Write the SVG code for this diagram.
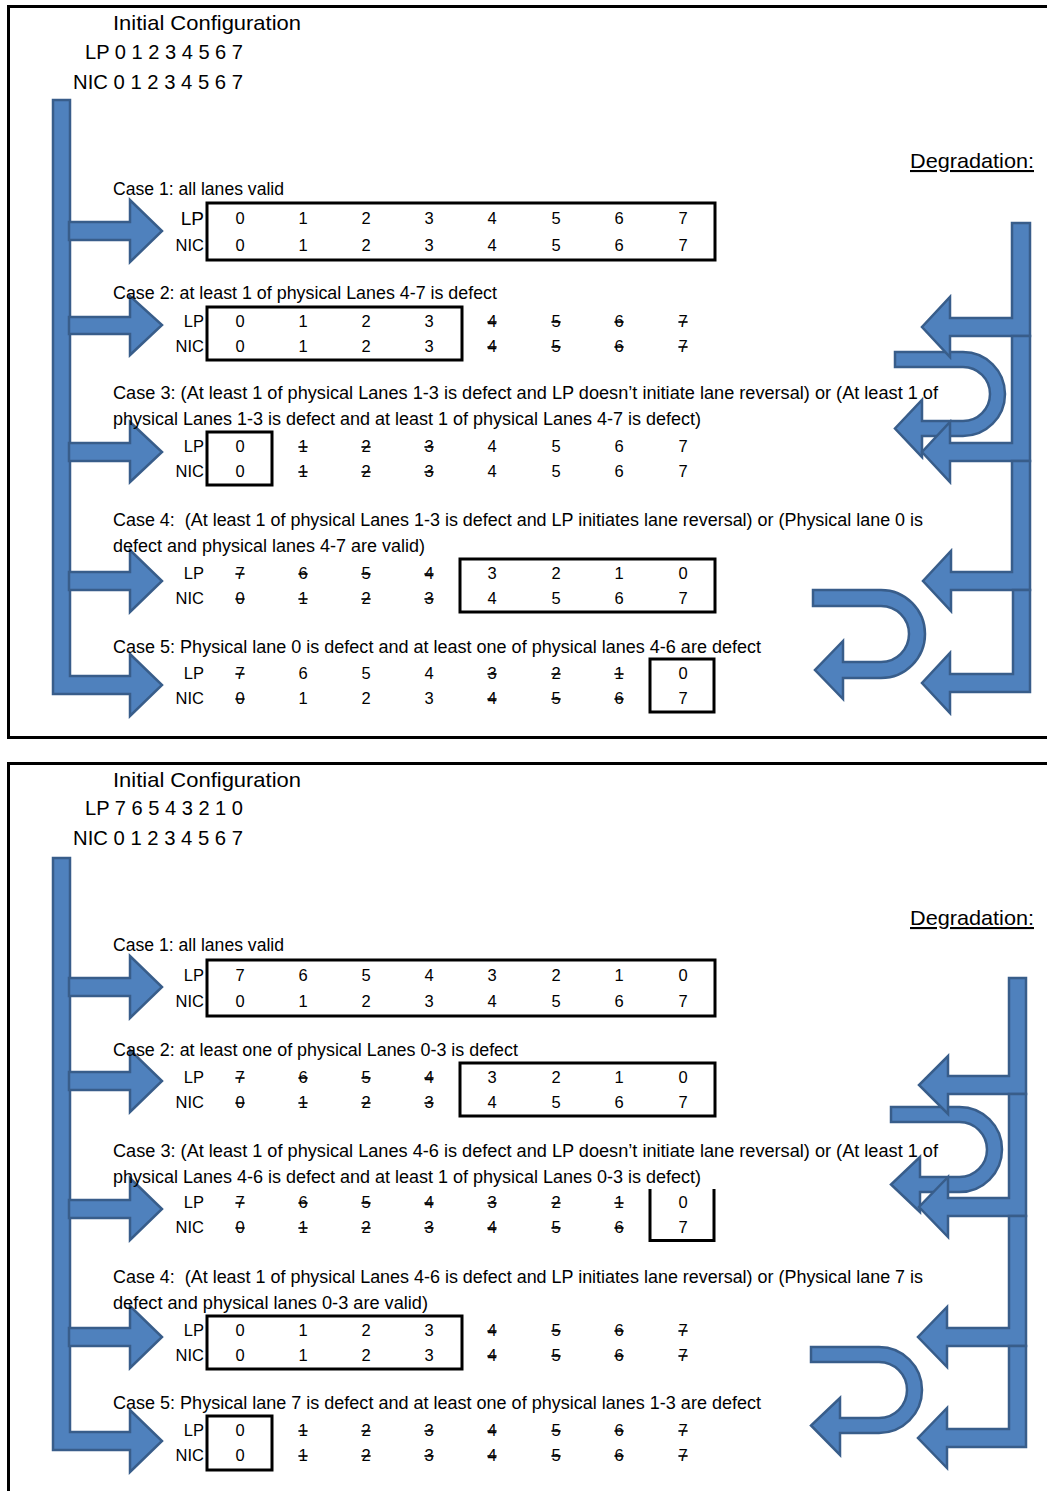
<svg xmlns="http://www.w3.org/2000/svg" width="1047" height="1491" viewBox="0 0 1047 1491">
<style>
text{font-family:"Liberation Sans",Arial,sans-serif;fill:#000}
.h{font-size:21px}
.c{font-size:17.5px}
.r{font-size:16.5px}
.d{font-size:16.5px;text-anchor:middle}
.l{font-size:16.5px;text-anchor:end}
.s{text-decoration:line-through}
.frame{fill:none;stroke:#000;stroke-width:3}
.box{fill:none;stroke:#000;stroke-width:3}
.arr{fill:#4F81BD;stroke:#385D8A;stroke-width:2.5;stroke-linejoin:miter}
</style>

<g id="frames">
<path class="frame" d="M1047,6.5 H8.5 V737.5 H1047"/>
<path class="frame" d="M1047,763.5 H8.5 V1491"/>
</g>

<g id="connectors">
<!-- top panel left -->
<path class="arr" d="M53,100 H70 V676 H130 V654 L162,685 L130,716 V694 H53 Z"/>
<path class="arr" d="M69,222 H130 V200 L162,231 L130,262 V240 H69 Z"/>
<path class="arr" d="M69,317 H130 V296 L162,325 L130,355 V334 H69 Z"/>
<path class="arr" d="M69,443 H130 V422 L162,452 L130,482 V461 H69 Z"/>
<path class="arr" d="M69,572 H130 V550 L162,581 L130,612 V590 H69 Z"/>
<!-- top panel right U-turns -->
<path class="arr" d="M895,352 H963 A42,42 0 0 1 963,436 H922 V457 L895,428.5 L922,400 V421 H963 A27,27 0 0 0 963,367 H895 Z"/>
<path class="arr" d="M813,590 H881 A44,44 0 0 1 881,678 H843 V699 L815,670 L843,641 V662 H881 A28,28 0 0 0 881,606 H813 Z"/>
<!-- top panel right bent arrows -->
<path class="arr" d="M1012,223 H1030 V336 H950 V357 L922,327 L950,297 V318 H1012 Z"/>
<path class="arr" d="M1012,336 H1030 V461 H950 V482 L922,452 L950,422 V443 H1012 Z"/>
<path class="arr" d="M1012,461 H1030 V590 H951 V611 L923,581 L951,551 V572 H1012 Z"/>
<path class="arr" d="M1013,590 H1030 V692 H950 V713 L922,683 L950,653 V674 H1013 Z"/>
<!-- bottom panel left -->
<path class="arr" d="M53,858 H70 V1432 H130 V1410 L162,1441 L130,1472 V1450 H53 Z"/>
<path class="arr" d="M69,978 H130 V956 L162,987 L130,1018 V996 H69 Z"/>
<path class="arr" d="M69,1072 H130 V1050 L162,1081 L130,1112 V1090 H69 Z"/>
<path class="arr" d="M69,1200 H130 V1178 L162,1209 L130,1240 V1218 H69 Z"/>
<path class="arr" d="M69,1328 H130 V1306 L162,1337 L130,1368 V1346 H69 Z"/>
<!-- bottom panel right U-turns -->
<path class="arr" d="M891,1107 H959.5 A42.5,42.5 0 0 1 959.5,1192 H920 V1212 L891,1184.5 L920,1157 V1177 H959.5 A27.5,27.5 0 0 0 959.5,1122 H891 Z"/>
<path class="arr" d="M811,1347 H879 A43,43 0 0 1 879,1433 H840 V1455 L811,1425.5 L840,1398 V1418 H879 A28,28 0 0 0 879,1362 H811 Z"/>
<!-- bottom panel right bent arrows -->
<path class="arr" d="M1009,978 H1026 V1094 H948 V1114 L919,1085 L948,1056 V1076 H1009 Z"/>
<path class="arr" d="M1009,1094 H1026 V1216 H948 V1237 L919,1207 L948,1177 V1198 H1009 Z"/>
<path class="arr" d="M1009,1216 H1026 V1346 H947 V1367 L918,1337 L947,1307 V1328 H1009 Z"/>
<path class="arr" d="M1009,1346 H1026 V1447 H947 V1468 L918,1438 L947,1408 V1429 H1009 Z"/>
</g>

<!-- ================= TOP PANEL ================= -->
<g id="top-initial">
<text class="h" x="113" y="29.5" textLength="188" lengthAdjust="spacingAndGlyphs">Initial Configuration</text>
<text class="h" x="85" y="59" textLength="158" lengthAdjust="spacingAndGlyphs">LP 0 1 2 3 4 5 6 7</text>
<text class="h" x="73" y="89" textLength="170" lengthAdjust="spacingAndGlyphs">NIC 0 1 2 3 4 5 6 7</text>
</g>
<g id="top-degradation">
<text class="h" x="910" y="168" textLength="124" lengthAdjust="spacingAndGlyphs" text-decoration="underline">Degradation:</text>
</g>

<g id="top-case1">
<text class="c" x="113" y="195" textLength="171" lengthAdjust="spacingAndGlyphs">Case 1: all lanes valid</text>
<text class="l" x="204" y="225" style="font-size:19px">LP</text>
<text class="l" x="204" y="251">NIC</text>
<rect class="box" x="207" y="203" width="508" height="57"/>
<text class="d" x="240" y="224">0</text><text class="d" x="303" y="224">1</text><text class="d" x="366" y="224">2</text><text class="d" x="429" y="224">3</text><text class="d" x="492" y="224">4</text><text class="d" x="556" y="224">5</text><text class="d" x="619" y="224">6</text><text class="d" x="683" y="224">7</text>
<text class="d" x="240" y="251">0</text><text class="d" x="303" y="251">1</text><text class="d" x="366" y="251">2</text><text class="d" x="429" y="251">3</text><text class="d" x="492" y="251">4</text><text class="d" x="556" y="251">5</text><text class="d" x="619" y="251">6</text><text class="d" x="683" y="251">7</text>
</g>

<g id="top-case2">
<text class="c" x="113" y="299" textLength="384" lengthAdjust="spacingAndGlyphs">Case 2: at least 1 of physical Lanes 4-7 is defect</text>
<text class="l" x="204" y="327">LP</text>
<text class="l" x="204" y="352">NIC</text>
<rect class="box" x="207" y="307" width="255" height="53"/>
<text class="d" x="240" y="327">0</text><text class="d" x="303" y="327">1</text><text class="d" x="366" y="327">2</text><text class="d" x="429" y="327">3</text><text class="d s" x="492" y="327">4</text><text class="d s" x="556" y="327">5</text><text class="d s" x="619" y="327">6</text><text class="d s" x="683" y="327">7</text>
<text class="d" x="240" y="352">0</text><text class="d" x="303" y="352">1</text><text class="d" x="366" y="352">2</text><text class="d" x="429" y="352">3</text><text class="d s" x="492" y="352">4</text><text class="d s" x="556" y="352">5</text><text class="d s" x="619" y="352">6</text><text class="d s" x="683" y="352">7</text>
</g>

<g id="top-case3">
<text class="c" x="113" y="399" textLength="825" lengthAdjust="spacingAndGlyphs">Case 3: (At least 1 of physical Lanes 1-3 is defect and LP doesn’t initiate lane reversal) or (At least 1 of</text>
<text class="c" x="113" y="425" textLength="588" lengthAdjust="spacingAndGlyphs">physical Lanes 1-3 is defect and at least 1 of physical Lanes 4-7 is defect)</text>
<text class="l" x="204" y="452">LP</text>
<text class="l" x="204" y="477">NIC</text>
<rect class="box" x="207" y="432" width="65" height="53"/>
<text class="d" x="240" y="452">0</text><text class="d s" x="303" y="452">1</text><text class="d s" x="366" y="452">2</text><text class="d s" x="429" y="452">3</text><text class="d" x="492" y="452">4</text><text class="d" x="556" y="452">5</text><text class="d" x="619" y="452">6</text><text class="d" x="683" y="452">7</text>
<text class="d" x="240" y="477">0</text><text class="d s" x="303" y="477">1</text><text class="d s" x="366" y="477">2</text><text class="d s" x="429" y="477">3</text><text class="d" x="492" y="477">4</text><text class="d" x="556" y="477">5</text><text class="d" x="619" y="477">6</text><text class="d" x="683" y="477">7</text>
</g>

<g id="top-case4">
<text class="c" x="113" y="526" textLength="810" lengthAdjust="spacingAndGlyphs" style="white-space:pre">Case 4:  (At least 1 of physical Lanes 1-3 is defect and LP initiates lane reversal) or (Physical lane 0 is</text>
<text class="c" x="113" y="552" textLength="312" lengthAdjust="spacingAndGlyphs">defect and physical lanes 4-7 are valid)</text>
<text class="l" x="204" y="579">LP</text>
<text class="l" x="204" y="604">NIC</text>
<rect class="box" x="460" y="559" width="255" height="53"/>
<text class="d s" x="240" y="579">7</text><text class="d s" x="303" y="579">6</text><text class="d s" x="366" y="579">5</text><text class="d s" x="429" y="579">4</text><text class="d" x="492" y="579">3</text><text class="d" x="556" y="579">2</text><text class="d" x="619" y="579">1</text><text class="d" x="683" y="579">0</text>
<text class="d s" x="240" y="604">0</text><text class="d s" x="303" y="604">1</text><text class="d s" x="366" y="604">2</text><text class="d s" x="429" y="604">3</text><text class="d" x="492" y="604">4</text><text class="d" x="556" y="604">5</text><text class="d" x="619" y="604">6</text><text class="d" x="683" y="604">7</text>
</g>

<g id="top-case5">
<text class="c" x="113" y="653" textLength="648" lengthAdjust="spacingAndGlyphs">Case 5: Physical lane 0 is defect and at least one of physical lanes 4-6 are defect</text>
<text class="l" x="204" y="679">LP</text>
<text class="l" x="204" y="704">NIC</text>
<rect class="box" x="650" y="659" width="64" height="53"/>
<text class="d s" x="240" y="679">7</text><text class="d" x="303" y="679">6</text><text class="d" x="366" y="679">5</text><text class="d" x="429" y="679">4</text><text class="d s" x="492" y="679">3</text><text class="d s" x="556" y="679">2</text><text class="d s" x="619" y="679">1</text><text class="d" x="683" y="679">0</text>
<text class="d s" x="240" y="704">0</text><text class="d" x="303" y="704">1</text><text class="d" x="366" y="704">2</text><text class="d" x="429" y="704">3</text><text class="d s" x="492" y="704">4</text><text class="d s" x="556" y="704">5</text><text class="d s" x="619" y="704">6</text><text class="d" x="683" y="704">7</text>
</g>

<!-- ================= BOTTOM PANEL ================= -->
<g id="bottom-initial">
<text class="h" x="113" y="786.5" textLength="188" lengthAdjust="spacingAndGlyphs">Initial Configuration</text>
<text class="h" x="85" y="815" textLength="158" lengthAdjust="spacingAndGlyphs">LP 7 6 5 4 3 2 1 0</text>
<text class="h" x="73" y="845" textLength="170" lengthAdjust="spacingAndGlyphs">NIC 0 1 2 3 4 5 6 7</text>
</g>
<g id="bottom-degradation">
<text class="h" x="910" y="925" textLength="124" lengthAdjust="spacingAndGlyphs" text-decoration="underline">Degradation:</text>
</g>

<g id="bottom-case1">
<text class="c" x="113" y="951" textLength="171" lengthAdjust="spacingAndGlyphs">Case 1: all lanes valid</text>
<text class="l" x="204" y="981">LP</text>
<text class="l" x="204" y="1007">NIC</text>
<rect class="box" x="207" y="960" width="508" height="56"/>
<text class="d" x="240" y="981">7</text><text class="d" x="303" y="981">6</text><text class="d" x="366" y="981">5</text><text class="d" x="429" y="981">4</text><text class="d" x="492" y="981">3</text><text class="d" x="556" y="981">2</text><text class="d" x="619" y="981">1</text><text class="d" x="683" y="981">0</text>
<text class="d" x="240" y="1007">0</text><text class="d" x="303" y="1007">1</text><text class="d" x="366" y="1007">2</text><text class="d" x="429" y="1007">3</text><text class="d" x="492" y="1007">4</text><text class="d" x="556" y="1007">5</text><text class="d" x="619" y="1007">6</text><text class="d" x="683" y="1007">7</text>
</g>

<g id="bottom-case2">
<text class="c" x="113" y="1056" textLength="405" lengthAdjust="spacingAndGlyphs">Case 2: at least one of physical Lanes 0-3 is defect</text>
<text class="l" x="204" y="1083">LP</text>
<text class="l" x="204" y="1108">NIC</text>
<rect class="box" x="460" y="1063" width="255" height="53"/>
<text class="d s" x="240" y="1083">7</text><text class="d s" x="303" y="1083">6</text><text class="d s" x="366" y="1083">5</text><text class="d s" x="429" y="1083">4</text><text class="d" x="492" y="1083">3</text><text class="d" x="556" y="1083">2</text><text class="d" x="619" y="1083">1</text><text class="d" x="683" y="1083">0</text>
<text class="d s" x="240" y="1108">0</text><text class="d s" x="303" y="1108">1</text><text class="d s" x="366" y="1108">2</text><text class="d s" x="429" y="1108">3</text><text class="d" x="492" y="1108">4</text><text class="d" x="556" y="1108">5</text><text class="d" x="619" y="1108">6</text><text class="d" x="683" y="1108">7</text>
</g>

<g id="bottom-case3">
<text class="c" x="113" y="1157" textLength="825" lengthAdjust="spacingAndGlyphs">Case 3: (At least 1 of physical Lanes 4-6 is defect and LP doesn’t initiate lane reversal) or (At least 1 of</text>
<text class="c" x="113" y="1183" textLength="588" lengthAdjust="spacingAndGlyphs">physical Lanes 4-6 is defect and at least 1 of physical Lanes 0-3 is defect)</text>
<text class="l" x="204" y="1208">LP</text>
<text class="l" x="204" y="1233">NIC</text>
<path class="box" d="M650,1189 V1240.5 H714 V1189"/>
<text class="d s" x="240" y="1208">7</text><text class="d s" x="303" y="1208">6</text><text class="d s" x="366" y="1208">5</text><text class="d s" x="429" y="1208">4</text><text class="d s" x="492" y="1208">3</text><text class="d s" x="556" y="1208">2</text><text class="d s" x="619" y="1208">1</text><text class="d" x="683" y="1208">0</text>
<text class="d s" x="240" y="1233">0</text><text class="d s" x="303" y="1233">1</text><text class="d s" x="366" y="1233">2</text><text class="d s" x="429" y="1233">3</text><text class="d s" x="492" y="1233">4</text><text class="d s" x="556" y="1233">5</text><text class="d s" x="619" y="1233">6</text><text class="d" x="683" y="1233">7</text>
</g>

<g id="bottom-case4">
<text class="c" x="113" y="1283" textLength="810" lengthAdjust="spacingAndGlyphs" style="white-space:pre">Case 4:  (At least 1 of physical Lanes 4-6 is defect and LP initiates lane reversal) or (Physical lane 7 is</text>
<text class="c" x="113" y="1309" textLength="315" lengthAdjust="spacingAndGlyphs">defect and physical lanes 0-3 are valid)</text>
<text class="l" x="204" y="1336">LP</text>
<text class="l" x="204" y="1361">NIC</text>
<rect class="box" x="207" y="1316" width="255" height="53"/>
<text class="d" x="240" y="1336">0</text><text class="d" x="303" y="1336">1</text><text class="d" x="366" y="1336">2</text><text class="d" x="429" y="1336">3</text><text class="d s" x="492" y="1336">4</text><text class="d s" x="556" y="1336">5</text><text class="d s" x="619" y="1336">6</text><text class="d s" x="683" y="1336">7</text>
<text class="d" x="240" y="1361">0</text><text class="d" x="303" y="1361">1</text><text class="d" x="366" y="1361">2</text><text class="d" x="429" y="1361">3</text><text class="d s" x="492" y="1361">4</text><text class="d s" x="556" y="1361">5</text><text class="d s" x="619" y="1361">6</text><text class="d s" x="683" y="1361">7</text>
</g>

<g id="bottom-case5">
<text class="c" x="113" y="1409" textLength="648" lengthAdjust="spacingAndGlyphs">Case 5: Physical lane 7 is defect and at least one of physical lanes 1-3 are defect</text>
<text class="l" x="204" y="1436">LP</text>
<text class="l" x="204" y="1461">NIC</text>
<rect class="box" x="207" y="1416" width="65" height="54"/>
<text class="d" x="240" y="1436">0</text><text class="d s" x="303" y="1436">1</text><text class="d s" x="366" y="1436">2</text><text class="d s" x="429" y="1436">3</text><text class="d s" x="492" y="1436">4</text><text class="d s" x="556" y="1436">5</text><text class="d s" x="619" y="1436">6</text><text class="d s" x="683" y="1436">7</text>
<text class="d" x="240" y="1461">0</text><text class="d s" x="303" y="1461">1</text><text class="d s" x="366" y="1461">2</text><text class="d s" x="429" y="1461">3</text><text class="d s" x="492" y="1461">4</text><text class="d s" x="556" y="1461">5</text><text class="d s" x="619" y="1461">6</text><text class="d s" x="683" y="1461">7</text>
</g>
</svg>
